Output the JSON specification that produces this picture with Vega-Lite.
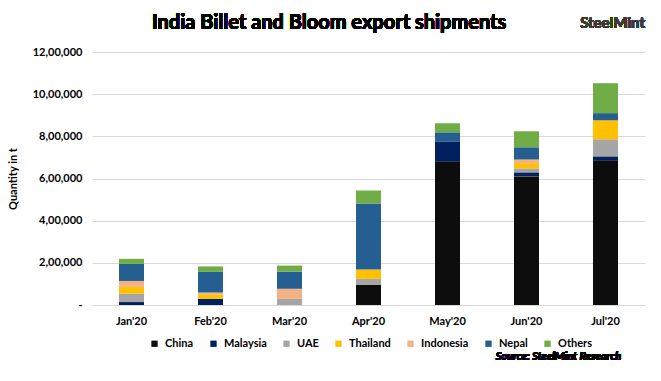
{
  "$schema": "https://vega.github.io/schema/vega-lite/v6.json",
  "autosize": "none",
  "width": 553,
  "height": 253,
  "padding": {"left": 92, "top": 52, "right": 16, "bottom": 76},
  "background": "white",
  "config": {
    "font": "Lato",
    "view": {"stroke": null},
    "axis": {"labelFont": "Lato", "labelFontWeight": "bold", "labelFontSize": 11, "labelColor": "#000000", "titleFont": "Lato"}
  },
  "data": {
    "values": [
      {"month": "Jan'20", "country": "Malaysia", "qty": 14000},
      {"month": "Jan'20", "country": "UAE", "qty": 40000},
      {"month": "Jan'20", "country": "Thailand", "qty": 32000},
      {"month": "Jan'20", "country": "Indonesia", "qty": 28000},
      {"month": "Jan'20", "country": "Nepal", "qty": 81000},
      {"month": "Jan'20", "country": "Others", "qty": 24000},
      {"month": "Feb'20", "country": "Malaysia", "qty": 29000},
      {"month": "Feb'20", "country": "Thailand", "qty": 22000},
      {"month": "Feb'20", "country": "Indonesia", "qty": 8000},
      {"month": "Feb'20", "country": "Nepal", "qty": 98000},
      {"month": "Feb'20", "country": "Others", "qty": 26000},
      {"month": "Mar'20", "country": "UAE", "qty": 29000},
      {"month": "Mar'20", "country": "Indonesia", "qty": 48000},
      {"month": "Mar'20", "country": "Nepal", "qty": 81000},
      {"month": "Mar'20", "country": "Others", "qty": 29000},
      {"month": "Apr'20", "country": "China", "qty": 95000},
      {"month": "Apr'20", "country": "UAE", "qty": 29000},
      {"month": "Apr'20", "country": "Thailand", "qty": 44000},
      {"month": "Apr'20", "country": "Nepal", "qty": 313000},
      {"month": "Apr'20", "country": "Others", "qty": 62000},
      {"month": "May'20", "country": "China", "qty": 682000},
      {"month": "May'20", "country": "Malaysia", "qty": 94000},
      {"month": "May'20", "country": "Nepal", "qty": 43000},
      {"month": "May'20", "country": "Others", "qty": 43000},
      {"month": "Jun'20", "country": "China", "qty": 610000},
      {"month": "Jun'20", "country": "Malaysia", "qty": 19000},
      {"month": "Jun'20", "country": "UAE", "qty": 19000},
      {"month": "Jun'20", "country": "Thailand", "qty": 25000},
      {"month": "Jun'20", "country": "Indonesia", "qty": 17000},
      {"month": "Jun'20", "country": "Nepal", "qty": 58000},
      {"month": "Jun'20", "country": "Others", "qty": 76000},
      {"month": "Jul'20", "country": "China", "qty": 686000},
      {"month": "Jul'20", "country": "Malaysia", "qty": 19000},
      {"month": "Jul'20", "country": "UAE", "qty": 81000},
      {"month": "Jul'20", "country": "Thailand", "qty": 90000},
      {"month": "Jul'20", "country": "Nepal", "qty": 34000},
      {"month": "Jul'20", "country": "Others", "qty": 142000}
    ]
  },
  "layer": [
    {
      "transform": [
        {"calculate": "indexof(['China', 'Malaysia', 'UAE', 'Thailand', 'Indonesia', 'Nepal', 'Others'], datum.country)", "as": "stackOrder"}
      ],
      "mark": {"type": "bar", "width": 25},
      "encoding": {
        "x": {
          "field": "month", "type": "nominal", "sort": null,
          "scale": {"paddingInner": 0, "paddingOuter": 0},
          "axis": {"title": null, "labelAngle": 0, "ticks": false, "labelPadding": 10, "domainColor": "#d9d9d9", "domainWidth": 1, "grid": false}
        },
        "y": {
          "field": "qty", "type": "quantitative", "stack": "zero",
          "scale": {"domain": [0, 1200000], "nice": false},
          "axis": {
            "title": "Quantity in t", "titleFontSize": 11, "titleFontWeight": "bold", "titleColor": "#000000", "titlePadding": 14,
            "values": [0, 200000, 400000, 600000, 800000, 1000000, 1200000],
            "labelExpr": "datum.value == 0 ? '-' : format(floor(datum.value / 100000), 'd') + ',00,000'",
            "ticks": false, "domain": false, "labelPadding": 10,
            "gridColor": "#d9d9d9", "gridWidth": 1
          }
        },
        "order": {"field": "stackOrder", "type": "quantitative", "sort": "ascending"},
        "color": {
          "field": "country", "type": "nominal",
          "scale": {
            "domain": ["China", "Malaysia", "UAE", "Thailand", "Indonesia", "Nepal", "Others"],
            "range": ["#0d0d0d", "#002060", "#a5a5a5", "#ffc000", "#f4b183", "#255e91", "#70ad47"]
          },
          "legend": {
            "title": null, "orient": "none", "direction": "horizontal", "columns": 7,
            "legendX": 57, "legendY": 286, "columnPadding": 14,
            "symbolType": "square", "symbolSize": 40, "symbolStrokeWidth": 0,
            "labelFont": "Lato", "labelFontWeight": "bold", "labelFontSize": 11, "labelColor": "#000000", "labelOffset": 5
          }
        }
      }
    },
    {
      "mark": {"type": "text", "text": "India Billet and Bloom export shipments", "font": "Lato", "fontSize": 20, "fontWeight": "bold", "color": "#000000", "align": "center", "baseline": "middle"},
      "encoding": {
        "x": {"datum": "Mar'20", "type": "nominal", "bandPosition": 1},
        "y": {"datum": 1337500, "type": "quantitative"}
      }
    },
    {
      "mark": {"type": "text", "text": "SteelMint", "font": "Lato", "fontSize": 15, "fontWeight": "bold", "color": "#3a3a3a", "align": "right", "baseline": "middle"},
      "encoding": {
        "x": {"datum": "Jul'20", "type": "nominal", "bandPosition": 1},
        "y": {"datum": 1337500, "type": "quantitative"}
      }
    },
    {
      "mark": {"type": "text", "text": "Source: SteelMint Research", "font": "Lato", "fontSize": 11, "fontWeight": "bold", "fontStyle": "italic", "color": "#000000", "align": "right", "baseline": "middle"},
      "encoding": {
        "x": {"datum": "Jul'20", "type": "nominal", "bandPosition": 0.7},
        "y": {"datum": -246600, "type": "quantitative"}
      }
    }
  ]
}
